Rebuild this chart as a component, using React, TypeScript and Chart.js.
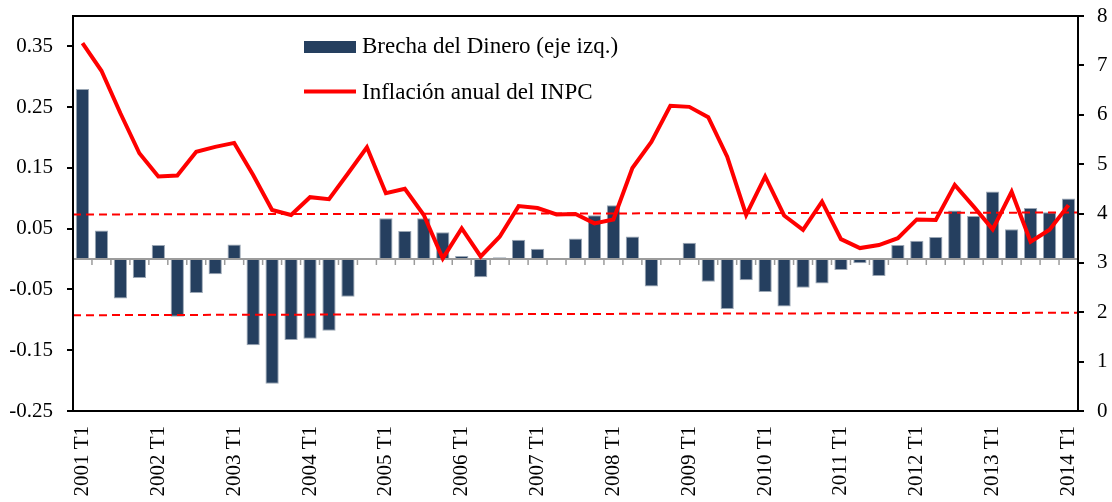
import React, { useEffect, useRef } from "react";
import { Chart, registerables } from "chart.js";

Chart.register(...registerables);

const years = ["2001", "2002", "2003", "2004", "2005", "2006", "2007", "2008", "2009", "2010", "2011", "2012", "2013", "2014"];
const quarterNames = ["T1", "T2", "T3", "T4"];
const categories: string[] = [];
years.forEach((y) => quarterNames.forEach((q) => categories.push(`${y} ${q}`)));
categories.splice(53);

const brechaDinero = [
  0.280, 0.047, -0.065, -0.031, 0.023, -0.095, -0.056, -0.025, 0.024, -0.142,
  -0.205, -0.133, -0.131, -0.118, -0.062, 0.0, 0.067, 0.046, 0.067, 0.044,
  0.005, -0.030, 0.003, 0.032, 0.017, 0.0, 0.034, 0.072, 0.0885, 0.037,
  -0.045, 0.0, 0.027, -0.0375, -0.082, -0.035, -0.054, -0.078, -0.047, -0.040,
  -0.018, -0.007, -0.028, 0.023, 0.030, 0.0365, 0.080, 0.071, 0.111, 0.049,
  0.084, 0.077, 0.0995,
];

const inflacionINPC = [
  7.45, 6.89, 6.03, 5.22, 4.75, 4.77, 5.25, 5.35, 5.43, 4.78,
  4.07, 3.97, 4.33, 4.29, 4.81, 5.34, 4.41, 4.50, 3.97, 3.09,
  3.70, 3.13, 3.53, 4.15, 4.11, 3.98, 3.99, 3.80, 3.88, 4.92,
  5.45, 6.18, 6.16, 5.95, 5.15, 3.97, 4.75, 3.96, 3.67, 4.24,
  3.48, 3.30, 3.36, 3.50, 3.88, 3.87, 4.58, 4.14, 3.68, 4.44,
  3.43, 3.67, 4.17,
];

// Dashed reference bands on the right axis: [value at left edge, value at right edge]
const bandUpper = [3.98, 4.02];
const bandLower = [1.94, 1.99];

const leftTicks = [-0.25, -0.15, -0.05, 0.05, 0.15, 0.25, 0.35];
const labelEvery = 4;

const FONT = '"Liberation Serif", "Times New Roman", serif';

const overlayPlugin = {
  id: "overlay",
  afterDatasetDraw(chart: any, args: any) {
    if (args.index !== 0) return;
    const { ctx, chartArea: a, scales } = chart;
    const y0 = scales.y.getPixelForValue(0);
    ctx.save();
    ctx.strokeStyle = "#9c9c9c";
    ctx.lineWidth = 2;
    ctx.beginPath();
    ctx.moveTo(a.left, y0);
    ctx.lineTo(a.right, y0);
    ctx.stroke();
    ctx.lineWidth = 1.5;
    ctx.beginPath();
    for (let i = 1; i < categories.length; i++) {
      const x = (scales.x.getPixelForValue(i - 1) + scales.x.getPixelForValue(i)) / 2;
      ctx.moveTo(x, y0);
      ctx.lineTo(x, y0 + 6);
    }
    ctx.stroke();
    ctx.setLineDash([8, 5]);
    ctx.strokeStyle = "#FF0000";
    ctx.lineWidth = 2;
    [bandUpper, bandLower].forEach((b) => {
      ctx.beginPath();
      ctx.moveTo(a.left, scales.y1.getPixelForValue(b[0]));
      ctx.lineTo(a.right, scales.y1.getPixelForValue(b[1]));
      ctx.stroke();
    });
    ctx.restore();
  },
  afterDraw(chart: any) {
    const { ctx, chartArea: a } = chart;
    ctx.save();
    ctx.strokeStyle = "#000";
    ctx.lineWidth = 2;
    ctx.strokeRect(a.left, a.top, a.right - a.left, a.bottom - a.top);
    // legend
    const ds = chart.data.datasets;
    const sx = 304, sw = 52, tx = 362;
    ctx.fillStyle = ds[0].backgroundColor;
    ctx.fillRect(sx, 41, sw, 12);
    ctx.strokeStyle = ds[1].borderColor;
    ctx.lineWidth = 4;
    ctx.beginPath();
    ctx.moveTo(sx, 91.5);
    ctx.lineTo(sx + sw, 91.5);
    ctx.stroke();
    ctx.fillStyle = "#000";
    ctx.font = `23px ${FONT}`;
    ctx.textAlign = "left";
    ctx.textBaseline = "alphabetic";
    ctx.fillText(ds[0].label, tx, 53);
    ctx.fillText(ds[1].label, tx, 99);
    ctx.restore();
  },
};

const zeroPad = (s: any) => {
  s.paddingTop = 0;
  s.paddingBottom = 0;
  s.paddingLeft = 0;
  s.paddingRight = 0;
};

export default function App() {
  const ref = useRef<HTMLCanvasElement | null>(null);
  useEffect(() => {
    if (!ref.current) return;
    const chart = new Chart(ref.current, {
      type: "bar",
      data: {
        labels: categories,
        datasets: [
          {
            type: "bar",
            label: "Brecha del Dinero (eje izq.)",
            data: brechaDinero,
            backgroundColor: "#253F5F",
            borderColor: "#9aa6b4",
            borderWidth: 1,
            barPercentage: 0.7,
            categoryPercentage: 1,
            yAxisID: "y",
            order: 2,
          },
          {
            type: "line",
            label: "Inflación anual del INPC",
            data: inflacionINPC,
            borderColor: "#FF0000",
            backgroundColor: "#FF0000",
            borderWidth: 4,
            pointRadius: 0,
            tension: 0,
            yAxisID: "y1",
            order: 1,
          },
        ],
      } as any,
      options: {
        animation: false,
        responsive: false,
        maintainAspectRatio: false,
        layout: { padding: { top: 16, left: 0, right: 0, bottom: 0 } },
        plugins: { legend: { display: false }, tooltip: { enabled: false } },
        scales: {
          x: {
            offset: true,
            grid: { display: false, drawTicks: false },
            border: { display: false },
            ticks: {
              autoSkip: false,
              maxRotation: 90,
              minRotation: 90,
              padding: 15,
              color: "#000",
              font: { family: FONT, size: 21 },
              callback: (_v: any, i: number) => (i % labelEvery === 0 ? categories[i] : ""),
            },
            afterFit: (s: any) => { s.height = 91; zeroPad(s); },
          },
          y: {
            position: "left",
            min: -0.25,
            max: 0.4,
            afterBuildTicks: (s: any) => { s.ticks = leftTicks.map((v) => ({ value: v })); },
            grid: { drawOnChartArea: false, drawTicks: true, tickLength: 6, color: "#000", lineWidth: 2 },
            border: { display: false },
            ticks: {
              padding: 14,
              color: "#000",
              font: { family: FONT, size: 21 },
              callback: (v: any) => Number(v).toFixed(2),
            },
            afterFit: (s: any) => { s.width = 73; zeroPad(s); },
          },
          y1: {
            position: "right",
            min: 0,
            max: 8,
            grid: { drawOnChartArea: false, drawTicks: true, tickLength: 6, color: "#000", lineWidth: 2 },
            border: { display: false },
            ticks: {
              stepSize: 1,
              padding: 13,
              color: "#000",
              font: { family: FONT, size: 21 },
            },
            afterFit: (s: any) => { s.width = 34; zeroPad(s); },
          },
        },
      } as any,
      plugins: [overlayPlugin],
    });
    return () => chart.destroy();
  }, []);
  return (
    <div style={{ position: "absolute", left: 0, top: 0, width: 1112, height: 502, background: "#fff" }}>
      <canvas ref={ref} width={1112} height={502} style={{ display: "block" }} />
    </div>
  );
}
